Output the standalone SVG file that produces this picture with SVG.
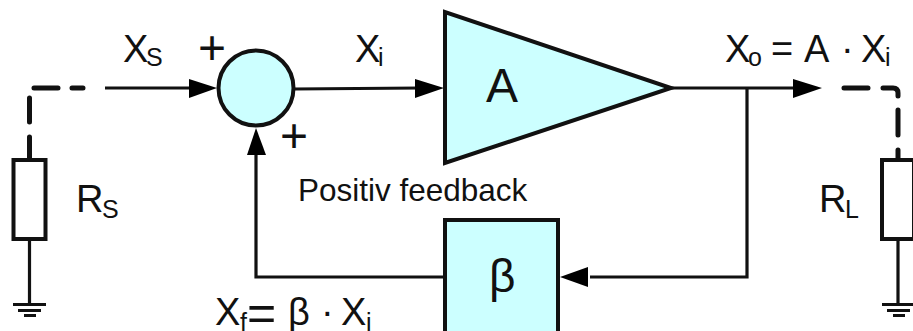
<svg xmlns="http://www.w3.org/2000/svg" width="913" height="331" viewBox="0 0 913 331">
<style>
text{font-family:"Liberation Sans",Arial,sans-serif;fill:#111}
.m{font-size:38px}
.s{font-size:25px}
.p{font-size:48px}
.shape{fill:#ccffff;stroke:#111;stroke-width:4;stroke-linejoin:miter}
.res{fill:#fff;stroke:#111;stroke-width:4}
.line{fill:none;stroke:#111;stroke-width:3.2}
.dash{fill:none;stroke:#111;stroke-width:5;stroke-linecap:round}
.head{fill:#000;stroke:none}
</style>
<rect width="913" height="331" fill="#fff"/>
<g id="connectors">
<path class="line" d="M105 88H195"/>
<polygon class="head" points="189,79 217,88 189,98"/>
<path class="line" d="M294 89L420 88"/>
<polygon class="head" points="415,79 444,88 415,98"/>
<path class="line" d="M671 88H795"/>
<polygon class="head" points="793,79 822,88 793,98"/>
<path class="line" d="M747 88V277H590"/>
<polygon class="head" points="588,267 560,277 588,287"/>
<path class="line" d="M445 277H256V150"/>
<polygon class="head" points="247,155 256,128 266,155"/>
<path class="dash" d="M34 88H58M72 88H83M29.500 98V122M29.500 137V160"/>
<path class="dash" d="M844 88H868M883 88H893Q898 88 898 93V96M898 110V135M898 150V160"/>
<path class="line" d="M29.500 239V304M898 239V304"/>
</g>
<g id="source-resistor">
<rect class="res" x="13.500" y="160" width="32" height="79"/>
<path class="line" d="M13 304.500H46M18 310.500H41M24 315.500H36"/>
<text class="m" x="76" y="212">R</text><text class="s" x="102" y="218">S</text>
</g>
<g id="load-resistor">
<rect class="res" x="882" y="160" width="32" height="79"/>
<path class="line" d="M882 304.500H915M887 310.500H910M893 315.500H905"/>
<text class="m" x="819" y="212">R</text><text class="s" x="845" y="218">L</text>
</g>
<g id="summer">
<circle class="shape" cx="256" cy="88" r="37.500"/>
<text class="p" x="198" y="64">+</text>
<text class="p" x="280" y="152">+</text>
</g>
<g id="amplifier">
<polygon class="shape" points="445,12 445,163 671,88"/>
<text x="486" y="102" style="font-size:48px">A</text>
</g>
<g id="beta">
<rect class="shape" x="445" y="220" width="113" height="125"/>
<text x="489" y="292" style="font-size:46px">β</text>
</g>
<g id="labels">
<text class="m" x="123" y="62">X</text><text class="s" x="146" y="66">S</text>
<text class="m" x="355" y="62">X</text><text class="s" x="378" y="66">i</text>
<text class="m" x="725" y="62">X</text><text class="s" x="748" y="66">o</text>
<text class="m"><tspan x="771" y="62">=</tspan><tspan x="804" y="62">A</tspan><tspan x="841" y="62">·</tspan><tspan x="861" y="62">X</tspan></text><text class="s" x="885" y="66">i</text>
<text x="298" y="201" style="font-size:31.500px">Positiv feedback</text>
<text class="m" x="215" y="325">X</text><text class="s" x="240" y="331">f</text>
<text x="247" y="330" style="font-size:50px">=</text>
<text class="m"><tspan x="288" y="325">β</tspan><tspan x="321" y="325">·</tspan><tspan x="341" y="325">X</tspan></text><text class="s" x="366" y="331">i</text>
</g>
</svg>
